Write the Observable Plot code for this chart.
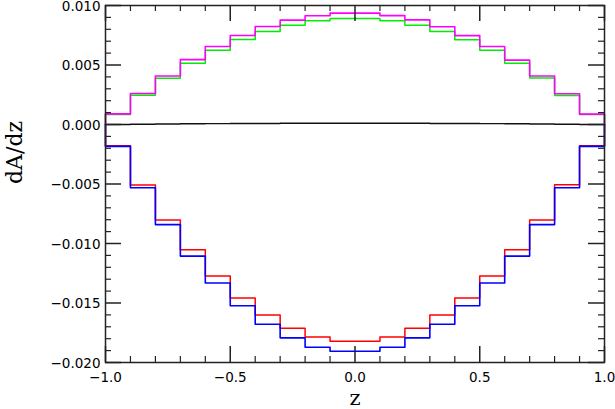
<!DOCTYPE html>
<html>
<head>
<meta charset="utf-8">
<script src="https://cdn.jsdelivr.net/npm/d3@7"></script>
<script src="https://cdn.jsdelivr.net/npm/@observablehq/plot@0.6"></script>
<style>
  html, body { margin: 0; padding: 0; background: #fff; }
  #chart svg { display: block; }
</style>
</head>
<body>
<div id="chart"></div>
<script>
// Bin lower edges (bin width 0.1) and the upper end of the range
const binStarts = [-1.0, -0.9, -0.8, -0.7, -0.6, -0.5, -0.4, -0.3, -0.2, -0.1,
                   0.0, 0.1, 0.2, 0.3, 0.4, 0.5, 0.6, 0.7, 0.8, 0.9];
const rangeEnd = 1.0;

// Series values (dA/dz per bin)
const magenta = [0.00089, 0.00260, 0.00408, 0.00545, 0.00656, 0.00748, 0.00824, 0.00877, 0.00914, 0.00936,
                 0.00936, 0.00915, 0.00879, 0.00822, 0.00747, 0.00655, 0.00541, 0.00408, 0.00258, 0.00087];
const green   = [0.00085, 0.00246, 0.00388, 0.00514, 0.00623, 0.00714, 0.00782, 0.00833, 0.00872, 0.00891,
                 0.00891, 0.00872, 0.00834, 0.00782, 0.00713, 0.00623, 0.00514, 0.00390, 0.00244, 0.00085];
const red     = [-0.00179, -0.00508, -0.00802, -0.01053, -0.01274, -0.01458, -0.01601, -0.01713, -0.01785, -0.01822,
                 -0.01822, -0.01785, -0.01713, -0.01601, -0.01458, -0.01274, -0.01053, -0.00802, -0.00507, -0.00179];
const blue    = [-0.00184, -0.00531, -0.00841, -0.01106, -0.01332, -0.01523, -0.01679, -0.01793, -0.01872, -0.01906,
                 -0.01906, -0.01872, -0.01793, -0.01679, -0.01523, -0.01332, -0.01106, -0.00841, -0.00531, -0.00184];
const black   = [0.00000, 0.00002, 0.00004, 0.00006, 0.00007, 0.00008, 0.00009, 0.00010, 0.00011, 0.00011,
                 0.00011, 0.00011, 0.00010, 0.00009, 0.00008, 0.00007, 0.00006, 0.00004, 0.00002, 0.00000];

// Tick values
const xMajorTicks = [-1.0, -0.5, 0.0, 0.5, 1.0];
const xMinorTicks = [-0.9, -0.8, -0.7, -0.6, -0.4, -0.3, -0.2, -0.1, 0.1, 0.2, 0.3, 0.4, 0.6, 0.7, 0.8, 0.9];
const yMajorTicks = [-0.020, -0.015, -0.010, -0.005, 0.000, 0.005, 0.010];
const yMinorTicks = [-0.019, -0.018, -0.017, -0.016, -0.014, -0.013, -0.012, -0.011,
                     -0.009, -0.008, -0.007, -0.006, -0.004, -0.003, -0.002, -0.001,
                     0.001, 0.002, 0.003, 0.004, 0.006, 0.007, 0.008, 0.009];

// Histogram outline: rise from zero at the start, steps, drop to zero at the end
function outline(values) {
  const pts = [{x: binStarts[0], y: 0}];
  values.forEach((v, i) => pts.push({x: binStarts[i], y: v}));
  pts.push({x: rangeEnd, y: 0});
  return pts;
}

const W = 615, H = 409;
const mL = 105, mR = 11, mT = 5, mB = 47;
const fw = W - mL - mR, fh = H - mT - mB;

const lineOpts = (color, sw) => ({x: "x", y: "y", curve: "step-after", stroke: color, strokeWidth: sw});

const tickFont = "'DejaVu Sans', Verdana, sans-serif";
const titleFont = "'DejaVu Serif', serif";

const plot = Plot.plot({
  width: W,
  height: H,
  marginLeft: mL,
  marginRight: mR,
  marginTop: mT,
  marginBottom: mB,
  style: {fontFamily: tickFont, fontSize: "13.5px", color: "#000", background: "#fff"},
  x: {domain: [-1, 1]},
  y: {domain: [-0.020, 0.010]},
  marks: [
    Plot.line(outline(green), lineOpts("#00ee00", 1.5)),
    Plot.line(outline(magenta), lineOpts("#ff00ff", 1.6)),
    Plot.line(outline(red), lineOpts("#ff0000", 1.5)),
    Plot.line(outline(blue), lineOpts("#0000ff", 1.6)),
    Plot.line(outline(black), lineOpts("#111", 1.4)),
    // inward ticks on all four sides
    Plot.tickX(xMajorTicks, {x: d => d, insetTop: fh - 16, stroke: "#222", strokeWidth: 1.5}),
    Plot.tickX(xMajorTicks, {x: d => d, insetBottom: fh - 16, stroke: "#222", strokeWidth: 1.5}),
    Plot.tickX(xMinorTicks, {x: d => d, insetTop: fh - 6, stroke: "#222", strokeWidth: 1.2}),
    Plot.tickX(xMinorTicks, {x: d => d, insetBottom: fh - 6, stroke: "#222", strokeWidth: 1.2}),
    Plot.tickY(yMajorTicks, {y: d => d, insetRight: fw - 16, stroke: "#222", strokeWidth: 1.5}),
    Plot.tickY(yMajorTicks, {y: d => d, insetLeft: fw - 16, stroke: "#222", strokeWidth: 1.5}),
    Plot.tickY(yMinorTicks, {y: d => d, insetRight: fw - 6, stroke: "#222", strokeWidth: 1.2}),
    Plot.tickY(yMinorTicks, {y: d => d, insetLeft: fw - 6, stroke: "#222", strokeWidth: 1.2}),
    Plot.frame({stroke: "#222", strokeWidth: 1.5}),
    Plot.axisX({ticks: xMajorTicks, tickSize: 0, tickPadding: 10, tickFormat: d3.format(".1f"), label: null, fontSize: 13.5}),
    Plot.axisY({ticks: yMajorTicks, tickSize: 0, tickPadding: 5, dy: 1, tickFormat: d3.format(".3f"), label: null, fontSize: 13.5}),
    Plot.text(["z"], {text: d => d, frameAnchor: "bottom", dy: 42, fontSize: 21, fontFamily: titleFont}),
    Plot.text(["dA/dz"], {text: d => d, frameAnchor: "left", dx: -91, rotate: -90, fontSize: 22, fontFamily: titleFont})
  ]
});

document.getElementById("chart").appendChild(plot);
</script>
</body>
</html>
